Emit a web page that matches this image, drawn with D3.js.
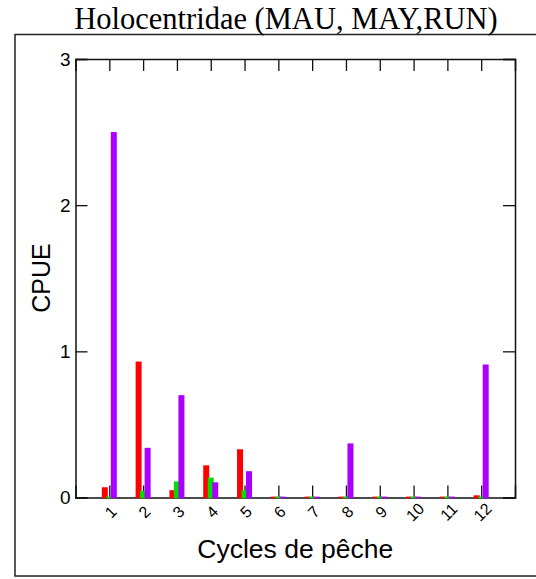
<!DOCTYPE html>
<html>
<head>
<meta charset="utf-8">
<script src="https://cdn.jsdelivr.net/npm/d3@7/dist/d3.min.js"></script>
<style>
  html, body { margin: 0; padding: 0; background: #fff; }
  svg { display: block; }
</style>
</head>
<body>
<script>
// Fishing cycles and CPUE per area
const cycles = [1, 2, 3, 4, 5, 6, 7, 8, 9, 10, 11, 12];
const seriesNames = ["MAU", "MAY", "RUN"];
const seriesColors = ["#ff0000", "#00dd00", "#aa00ff"];
const cpueMAU = [0.07, 0.93, 0.05, 0.22, 0.33, 0.006, 0.006, 0.006, 0.006, 0.006, 0.006, 0.015];
const cpueMAY = [0.006, 0.045, 0.11, 0.136, 0.05, 0.006, 0.006, 0.006, 0.006, 0.006, 0.006, 0.006];
const cpueRUN = [2.5, 0.34, 0.70, 0.104, 0.18, 0.006, 0.006, 0.37, 0.006, 0.006, 0.006, 0.91];
const yTicks = [0, 1, 2, 3];

const W = 536, H = 579;
const svg = d3.select("body").append("svg").attr("width", W).attr("height", H);

// outer frame
svg.append("rect")
  .attr("x", 15).attr("y", 34.5).attr("width", 530).attr("height", 541.5)
  .attr("fill", "none").attr("stroke", "#222").attr("stroke-width", 1.5);

svg.append("text")
  .attr("x", 286).attr("y", 29)
  .attr("text-anchor", "middle")
  .style("font-family", "'Liberation Serif', 'Times New Roman', serif")
  .style("font-size", "30.5px")
  .text("Holocentridae (MAU, MAY,RUN)");

const plotL = 75.5, plotR = 515, plotT = 59, plotB = 497.5;
const x = d3.scaleLinear().domain([0, 13]).range([plotL, plotR]);
const y = d3.scaleLinear().domain([0, 3]).range([plotB, plotT]);

const tickLen = 12;
const font = "'Liberation Sans', Arial, sans-serif";

// axes: ticks point inward on all four sides
const axL = svg.append("g").attr("transform", `translate(${plotL},0)`)
  .call(d3.axisRight(y).tickValues(yTicks).tickSize(tickLen).tickFormat(""));
const axR = svg.append("g").attr("transform", `translate(${plotR},0)`)
  .call(d3.axisLeft(y).tickValues(yTicks).tickSize(tickLen).tickFormat(""));
const axT = svg.append("g").attr("transform", `translate(0,${plotT})`)
  .call(d3.axisBottom(x).tickValues(cycles).tickSize(tickLen).tickFormat(""));
const axB = svg.append("g").attr("transform", `translate(0,${plotB})`)
  .call(d3.axisTop(x).tickValues(cycles).tickSize(tickLen).tickFormat(""));
[axL, axR, axT, axB].forEach(g => {
  g.selectAll("path.domain").attr("stroke", "#111").attr("stroke-width", 1.5);
  g.selectAll(".tick line").attr("stroke", "#111").attr("stroke-width", 1.3);
});

// y tick labels
svg.append("g").selectAll("text").data(yTicks).join("text")
  .attr("x", plotL - 5).attr("y", d => y(d))
  .attr("text-anchor", "end").attr("dominant-baseline", "central")
  .style("font-family", font).style("font-size", "19px")
  .text(d => d);

// x tick labels, rotated
svg.append("g").selectAll("text").data(cycles).join("text")
  .attr("transform", d => `translate(${x(d) + 1.5},512) rotate(-45)`)
  .attr("text-anchor", "middle").attr("dominant-baseline", "central")
  .style("font-family", font).style("font-size", "16px")
  .text(d => d);

// axis titles
svg.append("text")
  .attr("transform", `translate(50,278) rotate(-90)`)
  .attr("text-anchor", "middle")
  .style("font-family", font).style("font-size", "25px")
  .text("CPUE");
svg.append("text")
  .attr("x", (plotL + plotR) / 2).attr("y", 558)
  .attr("text-anchor", "middle")
  .style("font-family", font).style("font-size", "26.5px")
  .text("Cycles de pêche");

// grouped bars (overlapping slightly)
const series = [cpueMAU, cpueMAY, cpueRUN];
const offsets = [-4.5, 0, 4.5];
const barW = 6;
series.forEach((vals, si) => {
  svg.append("g").attr("class", "series-" + seriesNames[si])
    .selectAll("rect").data(cycles).join("rect")
    .attr("x", d => x(d) + offsets[si] - barW / 2)
    .attr("width", barW)
    .attr("y", (d, i) => y(vals[i]))
    .attr("height", (d, i) => y(0) - y(vals[i]) + 0.75)
    .attr("fill", seriesColors[si]);
});
</script>
</body>
</html>
